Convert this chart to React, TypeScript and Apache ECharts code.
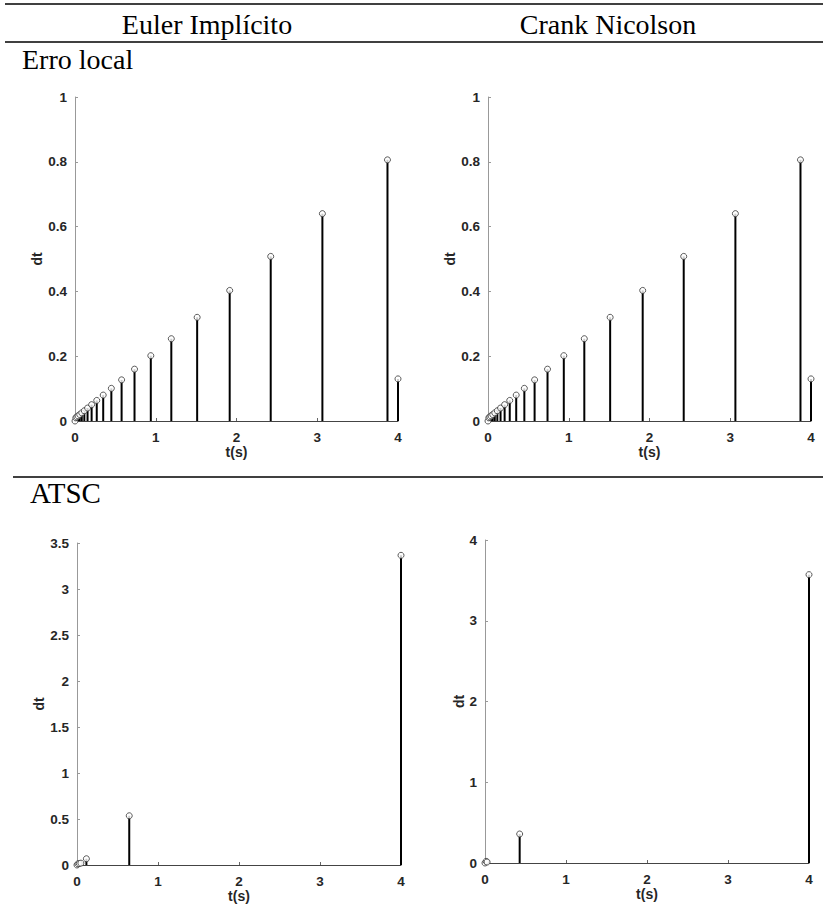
import React, { useEffect, useRef } from "react";
import * as echarts from "echarts";

// Erro local — Euler Implícito
const eulerLocalT = [0, 0.01, 0.0226, 0.0385, 0.0585, 0.0837, 0.1154, 0.1554, 0.2058, 0.2693, 0.3493, 0.4501, 0.5771, 0.7371, 0.9387, 1.1927, 1.5127, 1.9157, 2.4237, 3.0637, 3.8697, 4.0];
const eulerLocalDt = [0, 0.01, 0.0126, 0.0159, 0.02, 0.0252, 0.0317, 0.04, 0.0504, 0.0635, 0.08, 0.1008, 0.127, 0.16, 0.2016, 0.254, 0.32, 0.403, 0.508, 0.64, 0.806, 0.13];
// Erro local — Crank Nicolson
const cnLocalT = [0, 0.01, 0.0226, 0.0385, 0.0585, 0.0837, 0.1154, 0.1554, 0.2058, 0.2693, 0.3493, 0.4501, 0.5771, 0.7371, 0.9387, 1.1927, 1.5127, 1.9157, 2.4237, 3.0637, 3.8697, 4.0];
const cnLocalDt = [0, 0.01, 0.0126, 0.0159, 0.02, 0.0252, 0.0317, 0.04, 0.0504, 0.0635, 0.08, 0.1008, 0.127, 0.16, 0.2016, 0.254, 0.32, 0.403, 0.508, 0.64, 0.806, 0.13];
// ATSC — Euler Implícito
const eulerAtscT = [0, 0.012, 0.028, 0.048, 0.116, 0.645, 4.0];
const eulerAtscDt = [0, 0.012, 0.016, 0.02, 0.068, 0.535, 3.366];
// ATSC — Crank Nicolson
const cnAtscT = [0, 0.014, 0.026, 0.428, 4.0];
const cnAtscDt = [0, 0.02, 0.012, 0.359, 3.571];

const columnTitles = ["Euler Implícito", "Crank Nicolson"];
const rowTitles = ["Erro local", "ATSC"];
const xTitle = "t(s)";
const yTitle = "dt";

const yMax = [1, 1, 3.5, 4];
const yStep = [0.2, 0.2, 0.5, 1];

const AXIS_FONT = "Liberation Sans, Arial, sans-serif";
const SERIF = "Liberation Serif, Times New Roman, serif";

export default function App() {
  const ref = useRef<HTMLDivElement>(null);
  useEffect(() => {
    if (!ref.current) return;
    const chart = echarts.init(ref.current, null, { renderer: "svg" });
    const sets = [
      [eulerLocalT, eulerLocalDt],
      [cnLocalT, cnLocalDt],
      [eulerAtscT, eulerAtscDt],
      [cnAtscT, cnAtscDt],
    ];
    const grids = [
      { left: 75, top: 97, width: 323, height: 324 },
      { left: 488, top: 97, width: 323, height: 324 },
      { left: 77, top: 543, width: 324, height: 322 },
      { left: 485, top: 540, width: 324, height: 323 },
    ];
    const yGaps = [24, 24, 28, 13];
    const labelStyle = { color: "#262626", fontFamily: AXIS_FONT, fontWeight: "bold" as const, fontSize: 13.5 };
    const xAxis = grids.map((_, i) => ({
      type: "value",
      gridIndex: i,
      min: 0,
      max: 4,
      interval: 1,
      name: xTitle,
      nameLocation: "middle",
      nameGap: 24,
      nameTextStyle: { ...labelStyle, fontSize: 14 },
      axisLine: { show: true, lineStyle: { color: "#444", width: 1 } },
      axisTick: { show: true, inside: true, length: 3, lineStyle: { color: "#666" } },
      axisLabel: { ...labelStyle, margin: 9 },
      splitLine: { show: false },
    }));
    const yAxis = grids.map((_, i) => ({
      type: "value",
      gridIndex: i,
      min: 0,
      max: yMax[i],
      interval: yStep[i],
      name: yTitle,
      nameLocation: "middle",
      nameGap: yGaps[i],
      nameRotate: 90,
      nameTextStyle: { ...labelStyle, fontSize: 14 },
      axisLine: { show: true, lineStyle: { color: "#999", width: 1 } },
      axisTick: { show: true, inside: true, length: 3, lineStyle: { color: "#999" } },
      axisLabel: { ...labelStyle, margin: 8 },
      splitLine: { show: false },
    }));
    const series: any[] = [];
    sets.forEach(([ts, vs], i) => {
      const data = ts.map((t, k) => [t, vs[k]]);
      series.push({
        type: "custom",
        xAxisIndex: i,
        yAxisIndex: i,
        clip: false,
        data,
        renderItem: (params: any, api: any) => {
          const p0 = api.coord([api.value(0), 0]);
          const p1 = api.coord([api.value(0), api.value(1)]);
          return {
            type: "line",
            shape: { x1: p0[0], y1: p0[1], x2: p1[0], y2: p1[1] },
            style: { stroke: "#000", lineWidth: 2 },
          };
        },
      });
      series.push({
        type: "scatter",
        xAxisIndex: i,
        yAxisIndex: i,
        clip: false,
        data,
        symbol: "circle",
        symbolSize: 6,
        itemStyle: { color: "#fff", borderColor: "#333", borderWidth: 1 },
      });
    });
    const headerFont = `28px ${SERIF}`;
    chart.setOption({
      animation: false,
      backgroundColor: "#fff",
      grid: grids,
      xAxis,
      yAxis,
      series,
      graphic: [
        { type: "line", shape: { x1: 5, y1: 4, x2: 823, y2: 4 }, style: { stroke: "#000", lineWidth: 1.5 } },
        { type: "line", shape: { x1: 5, y1: 42, x2: 823, y2: 42 }, style: { stroke: "#000", lineWidth: 1.5 } },
        { type: "line", shape: { x1: 13, y1: 477, x2: 823, y2: 477 }, style: { stroke: "#000", lineWidth: 1.5 } },
        { type: "text", x: 207, y: 24, style: { text: columnTitles[0], font: headerFont, fill: "#000", textAlign: "center", textVerticalAlign: "middle" } },
        { type: "text", x: 608, y: 24, style: { text: columnTitles[1], font: headerFont, fill: "#000", textAlign: "center", textVerticalAlign: "middle" } },
        { type: "text", x: 22, y: 59, style: { text: rowTitles[0], font: headerFont, fill: "#000", textAlign: "left", textVerticalAlign: "middle" } },
        { type: "text", x: 30, y: 493, style: { text: rowTitles[1], font: `29px ${SERIF}`, fill: "#000", textAlign: "left", textVerticalAlign: "middle" } },
      ],
    });
    return () => chart.dispose();
  }, []);
  return <div ref={ref} style={{ position: "absolute", left: 0, top: 0, width: 823, height: 912 }} />;
}
